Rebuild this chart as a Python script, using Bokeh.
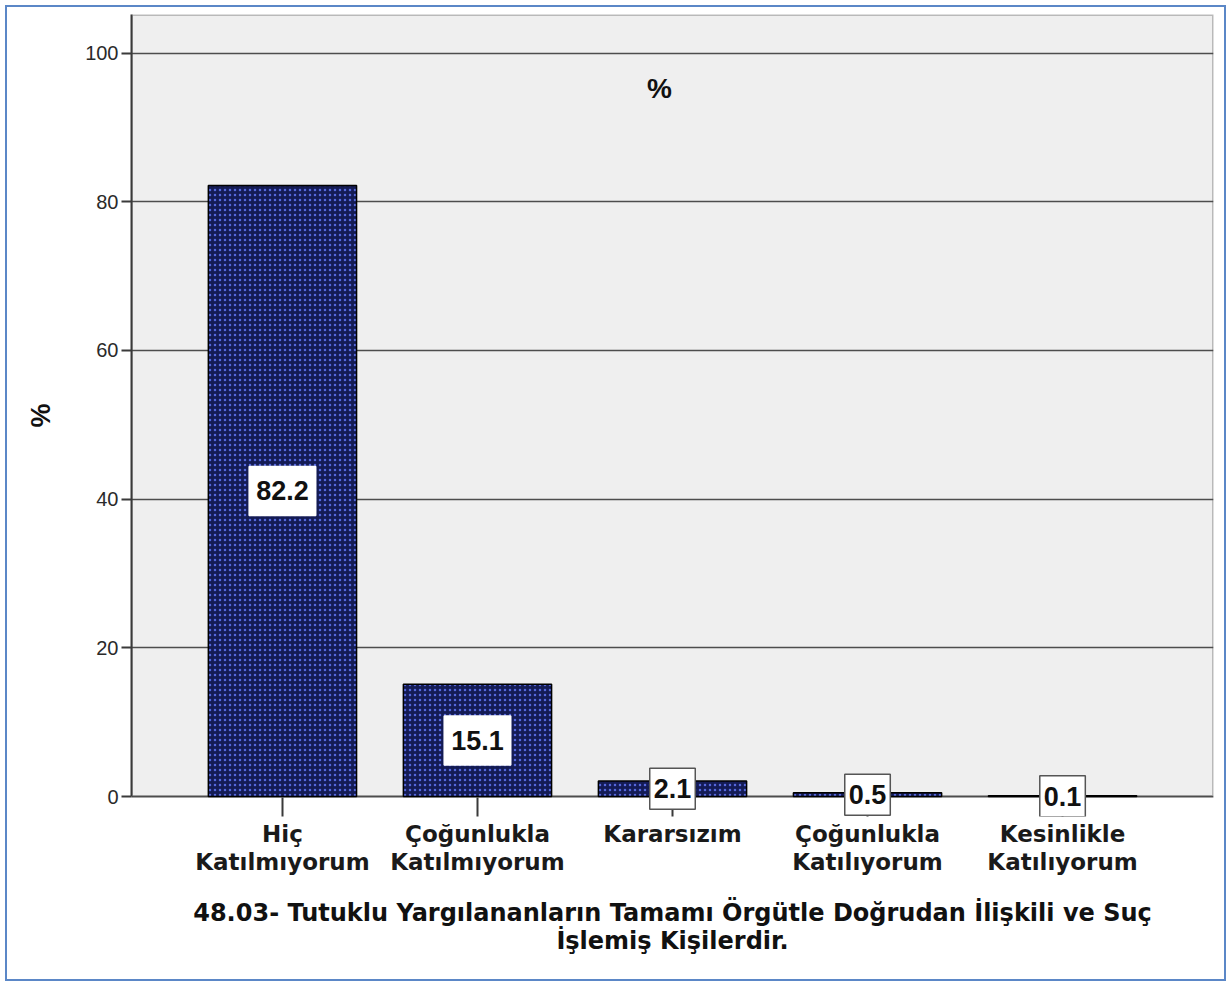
from bokeh.plotting import figure
from bokeh.models import FactorRange, Range1d, ColumnDataSource, FixedTicker, Label, BoxAnnotation
from bokeh.core.properties import value
from bokeh.embed import file_html
from bokeh.resources import INLINE

categories = ["Hiç\nKatılmıyorum", "Çoğunlukla\nKatılmıyorum", "Kararsızım",
              "Çoğunlukla\nKatılıyorum", "Kesinlikle\nKatılıyorum"]
percentages = [82.2, 15.1, 2.1, 0.5, 0.1]
value_labels = ["82.2", "15.1", "2.1", "0.5", "0.1"]
y_ticks = [0, 20, 40, 60, 80, 100]
chart_title = "%"
y_title = "%"
x_title = "48.03- Tutuklu Yargılananların Tamamı Örgütle Doğrudan İlişkili ve Suç\nİşlemiş Kişilerdir."

FONT = "Liberation Sans"
WIDE = "DejaVu Sans"
Y_TOP = 105.2
Y_BOTTOM = -2.69   # small white strip below 0 so the value boxes are not clipped

src = ColumnDataSource(dict(cat=categories, val=percentages))

p = figure(
    width=1221, height=976,
    x_range=FactorRange(factors=categories, range_padding=0.274, range_padding_units="absolute"),
    y_range=Range1d(Y_BOTTOM, Y_TOP),
    output_backend="svg", toolbar_location=None,
    min_border_left=124, min_border_right=15, min_border_top=7, min_border_bottom=167,
)
p.styles = {"border": "2px solid #5b87c7", "margin": "5px"}

p.background_fill_color = "white"
p.border_fill_color = "white"
p.outline_line_color = None

# grey plot area from 0 up, with its dark frame
p.add_layout(BoxAnnotation(bottom=0, fill_color="#efefef", fill_alpha=1,
                           line_color="#3a3a3a", line_width=3, level="image"))

p.xgrid.visible = False
p.ygrid.ticker = FixedTicker(ticks=y_ticks)
p.ygrid.grid_line_color = "#4d4d4d"
p.ygrid.grid_line_width = 1.5

p.vbar(x="cat", top="val", width=0.76, source=src,
       fill_color="#141b55", line_color="black", line_width=1.5,
       hatch_pattern="dot", hatch_color="#5568dc", hatch_scale=5, hatch_weight=3)

# categorical (synthetic) coordinate of each factor centre is index + 0.5
for i, (v, txt) in enumerate(zip(percentages, value_labels)):
    p.add_layout(Label(
        x=i + 0.5, y=v / 2, text=txt,
        text_align="center", text_baseline="middle",
        text_font=FONT, text_font_size="27px", text_font_style="bold",
        text_color="#111111",
        background_fill_color="white",
        border_line_color="white" if v > 10 else "#555555", border_line_width=1.5,
        padding=(7, 15) if v > 10 else (4, 11),
    ))

p.text(x=[categories[2]], y=[95.3], text=[chart_title], x_offset=-13,
       text_align="center", text_baseline="middle",
       text_font=value(FONT), text_font_size="28px", text_font_style="bold",
       text_color="#111111")

ya = p.yaxis[0]
ya.ticker = FixedTicker(ticks=y_ticks)
ya.bounds = (0, Y_TOP)
ya.minor_tick_line_color = None
ya.major_tick_in = 0
ya.major_tick_out = 10
ya.major_tick_line_color = "#3a3a3a"
ya.major_tick_line_width = 2
ya.axis_line_color = "#3a3a3a"
ya.axis_line_width = 2
ya.major_label_text_font = FONT
ya.major_label_text_font_size = "20px"
ya.major_label_text_color = "#2a2a2a"
ya.major_label_standoff = 3
ya.axis_label = y_title
ya.axis_label_text_font = FONT
ya.axis_label_text_font_size = "27px"
ya.axis_label_text_font_style = "bold"
ya.axis_label_text_color = "#111111"
ya.axis_label_standoff = 26

xa = p.xaxis[0]
xa.axis_line_color = None
xa.major_tick_in = 19
xa.major_tick_out = 0
xa.major_tick_line_color = "#3a3a3a"
xa.major_tick_line_width = 2
xa.major_label_text_font = WIDE
xa.major_label_text_font_size = "23px"
xa.major_label_text_font_style = "bold"
xa.major_label_text_color = "#1a1a1a"
xa.major_label_text_line_height = 1.1
xa.major_label_standoff = 4
xa.axis_label = x_title
xa.axis_label_text_font = WIDE
xa.axis_label_text_font_size = "24px"
xa.axis_label_text_font_style = "bold"
xa.axis_label_text_color = "#111111"
xa.axis_label_text_line_height = 1.0
xa.axis_label_standoff = 21

open("out.html", "w").write(file_html(p, INLINE))
